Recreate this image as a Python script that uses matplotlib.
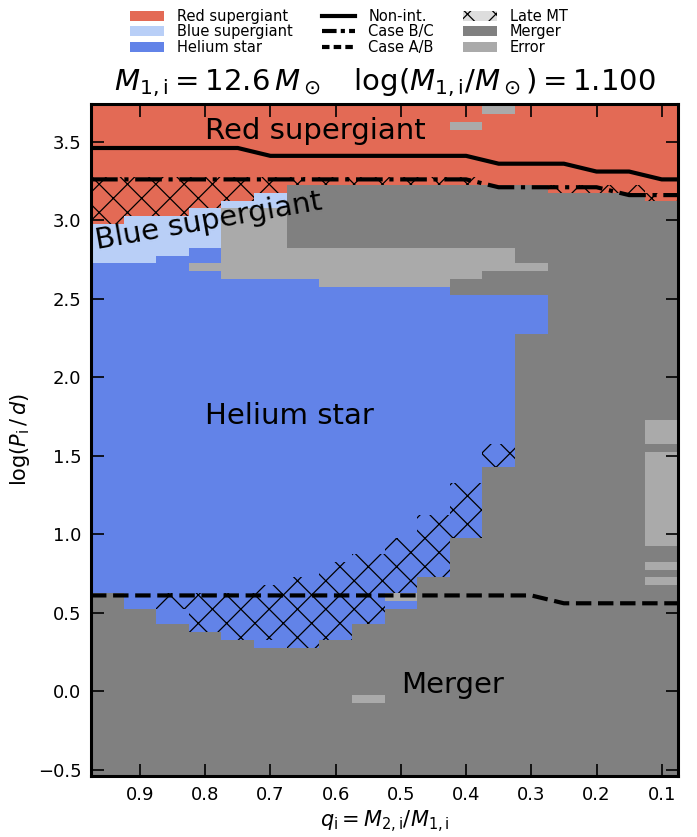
import numpy as np
import matplotlib
matplotlib.use("Agg")
import matplotlib.pyplot as plt
from matplotlib.colors import ListedColormap, BoundaryNorm
from matplotlib.patches import Patch
from matplotlib.lines import Line2D

plt.rcParams['font.family'] = ['DejaVu Sans']
plt.rcParams['mathtext.fontset'] = 'dejavusans'
plt.rcParams['hatch.color'] = 'black'

DPI = 85
K = 100.0 / DPI          # keeps sizes in pixels while hatch tiles follow the dpi
plt.rcParams['hatch.linewidth'] = 0.9 * K

# ---------------------------------------------------------------- grid
q_values = [0.95, 0.90, 0.85, 0.80, 0.75, 0.70, 0.65, 0.60, 0.55,
            0.50, 0.45, 0.40, 0.35, 0.30, 0.25, 0.20, 0.15, 0.10]
logp_lo, logp_hi, logp_step = -0.55, 3.75, 0.05

# per-column class boundaries (cell edges in log P)
nan = np.nan
he_bottom = [0.625, 0.525, 0.425, 0.375, 0.325, 0.275, 0.275, 0.325, 0.425,
             0.525, 0.725, 0.975, 1.425, 2.275, nan, nan, nan, nan]
he_top = [2.725, 2.725, 2.775, 2.825, 2.625, 2.625, 2.625, 2.575, 2.575,
          2.575, 2.575, 2.525, 2.525, 2.525, nan, nan, nan, nan]
bsg_bottom = [2.725, 2.725, 2.775, 2.825, 3.075, 3.075, nan, nan, nan,
              nan, nan, nan, nan, nan, nan, nan, nan, nan]
rsg_bottom = [2.975, 3.025, 3.025, 3.075, 3.125, 3.175, 3.225, 3.225, 3.225,
              3.225, 3.225, 3.225, 3.225, 3.225, 3.175, 3.175, 3.175, 3.125]

# failed runs: (q, log P lower edge, log P upper edge)
error_q = [0.80, 0.75, 0.70, 0.65, 0.60, 0.55, 0.50, 0.45, 0.40, 0.35, 0.30,
           0.40, 0.35, 0.50, 0.55, 0.10, 0.10, 0.10, 0.10]
error_lo = [2.675, 2.625, 2.625, 2.625, 2.575, 2.575, 2.575, 2.575, 2.625,
            2.675, 2.675, 3.575, 3.675, 0.575, -0.075, 1.575, 0.925, 0.775, 0.675]
error_hi = [2.725, 3.075, 3.075, 2.825, 2.825, 2.825, 2.825, 2.825, 2.825,
            2.825, 2.725, 3.625, 3.725, 0.625, -0.025, 1.725, 1.525, 0.825, 0.725]

# late mass transfer: (q, log P lower edge, log P upper edge)
late_q = [0.95, 0.90, 0.85, 0.80, 0.75, 0.70, 0.65, 0.60, 0.55, 0.50, 0.45,
          0.40, 0.25, 0.20, 0.15, 0.10,
          0.85, 0.80, 0.75, 0.70, 0.65, 0.60, 0.55, 0.50, 0.45, 0.40, 0.35]
late_lo = [2.975, 3.025, 3.025, 3.075, 3.125, 3.175, 3.225, 3.225, 3.225,
           3.225, 3.225, 3.225, 3.175, 3.175, 3.175, 3.125,
           0.525, 0.375, 0.325, 0.325, 0.275, 0.325, 0.425, 0.625, 0.725,
           0.975, 1.425]
late_hi = [3.275, 3.275, 3.275, 3.275, 3.275, 3.275, 3.275, 3.275, 3.275,
           3.275, 3.275, 3.275, 3.225, 3.225, 3.225, 3.175,
           0.625, 0.625, 0.625, 0.675, 0.725, 0.825, 0.875, 0.975, 1.125,
           1.325, 1.575]

# mass-transfer boundaries
non_int = [3.46, 3.46, 3.46, 3.46, 3.46, 3.41, 3.41, 3.41, 3.41, 3.41, 3.41,
           3.41, 3.36, 3.36, 3.36, 3.31, 3.31, 3.26]
case_bc = [3.26, 3.26, 3.26, 3.26, 3.26, 3.26, 3.26, 3.26, 3.26, 3.26, 3.26,
           3.26, 3.21, 3.21, 3.21, 3.21, 3.16, 3.16]
case_ab = [0.61, 0.61, 0.61, 0.61, 0.61, 0.61, 0.61, 0.61, 0.61, 0.61, 0.61,
           0.61, 0.61, 0.61, 0.56, 0.56, 0.56, 0.56]

class_names = ['Red supergiant', 'Blue supergiant', 'Helium star', 'Merger', 'Error']
class_colors = ['#e36a55', '#b9cff7', '#6283e8', '#808080', '#aaaaaa']
late_label = 'Late MT'
line_labels = ['Non-int.', 'Case B/C', 'Case A/B']
line_styles = ['-', '-.', '--']
legend_styles = ['-', (0, (3.5, 1.0, 1.0, 1.0)), (0, (1.8, 1.0))]

# ---------------------------------------------------------------- class map
q_arr = np.array(q_values)
logp = np.round(np.arange(logp_lo, logp_hi + logp_step / 2, logp_step), 3)
RSG, BSG, HE, MRG, ERR = range(5)
Z = np.full((logp.size, q_arr.size), MRG)
for j in range(q_arr.size):
    Z[logp > rsg_bottom[j], j] = RSG
    if not np.isnan(bsg_bottom[j]):
        Z[(logp > bsg_bottom[j]) & (logp < rsg_bottom[j]), j] = BSG
    if not np.isnan(he_bottom[j]):
        Z[(logp > he_bottom[j]) & (logp < he_top[j]), j] = HE
for qe, lo, hi in zip(error_q, error_lo, error_hi):
    j = int(np.argmin(np.abs(q_arr - qe)))
    Z[(logp > lo) & (logp < hi), j] = ERR

dq = 0.05
q_edges = np.append(q_arr + dq / 2, q_arr[-1] - dq / 2)
p_edges = np.append(logp - logp_step / 2, logp[-1] + logp_step / 2)

# ---------------------------------------------------------------- figure
fig = plt.figure(figsize=(698 / DPI, 837 / DPI), dpi=DPI)
ax = fig.add_axes([0.1304, 0.0729, 0.8410, 0.8028])

cmap = ListedColormap(class_colors)
norm = BoundaryNorm(np.arange(-0.5, 5.5, 1), cmap.N)
ax.pcolormesh(q_edges, p_edges, Z, cmap=cmap, norm=norm, shading='flat')

ax.bar(late_q, np.array(late_hi) - np.array(late_lo), bottom=late_lo,
       width=dq, fill=False, hatch='x', linewidth=0, edgecolor='black')

q_line = np.concatenate([[q_edges[0]], q_arr, [q_edges[-1]]])
for vals, ls in zip([non_int, case_bc, case_ab], line_styles):
    v = np.concatenate([[vals[0]], vals, [vals[-1]]])
    ax.plot(q_line, v, color='black', lw=3 * K, ls=ls)

fs_reg = 21 * K
ax.text(0.80, 3.57, 'Red supergiant', fontsize=fs_reg, ha='left', va='center')
ax.text(0.968, 2.865, 'Blue supergiant', fontsize=fs_reg, ha='left', va='center',
        rotation=10, rotation_mode='anchor')
ax.text(0.80, 1.75, 'Helium star', fontsize=fs_reg, ha='left', va='center')
ax.text(0.50, 0.04, 'Merger', fontsize=fs_reg, ha='left', va='center')

ax.set_xlim(0.975, 0.075)
ax.set_ylim(-0.54, 3.74)
ax.set_xticks([0.9, 0.8, 0.7, 0.6, 0.5, 0.4, 0.3, 0.2, 0.1])
ax.set_yticks([-0.5, 0.0, 0.5, 1.0, 1.5, 2.0, 2.5, 3.0, 3.5])
ax.tick_params(direction='in', length=9 * K, width=1.2 * K, labelsize=13 * K,
               top=True, right=True, pad=7 * K)
for s in ax.spines.values():
    s.set_linewidth(2.2 * K)

ax.set_xlabel(r'$q_{\rm i} = M_{2,{\rm i}}/M_{1,{\rm i}}$', fontsize=15 * K,
              labelpad=4 * K)
ax.set_ylabel(r'$\log(P_{\rm i}\,/\,d)$', fontsize=15 * K, labelpad=4 * K)
ax.set_title(r'$M_{1,{\rm i}} = 12.6\,M_\odot\quad\log(M_{1,{\rm i}}/M_\odot) = 1.100$',
             fontsize=21 * K, pad=10 * K)

handles = [Patch(facecolor=c, label=n) for c, n in zip(class_colors[:3], class_names[:3])]
handles += [Line2D([], [], color='black', lw=3 * K, ls=ls, label=l)
            for ls, l in zip(legend_styles, line_labels)]
handles += [Patch(facecolor='#dddddd', edgecolor='black', linewidth=0, hatch='x',
                  label=late_label)]
handles += [Patch(facecolor=c, label=n) for c, n in zip(class_colors[3:], class_names[3:])]
fig.legend(handles=handles, ncol=3, loc='upper center', bbox_to_anchor=(0.5, 1.0),
           frameon=False, fontsize=10.5 * K, handlelength=2.3, labelspacing=0.05,
           borderaxespad=0.2, columnspacing=2.0, handletextpad=0.9)

fig.savefig('out.png', dpi=DPI)
